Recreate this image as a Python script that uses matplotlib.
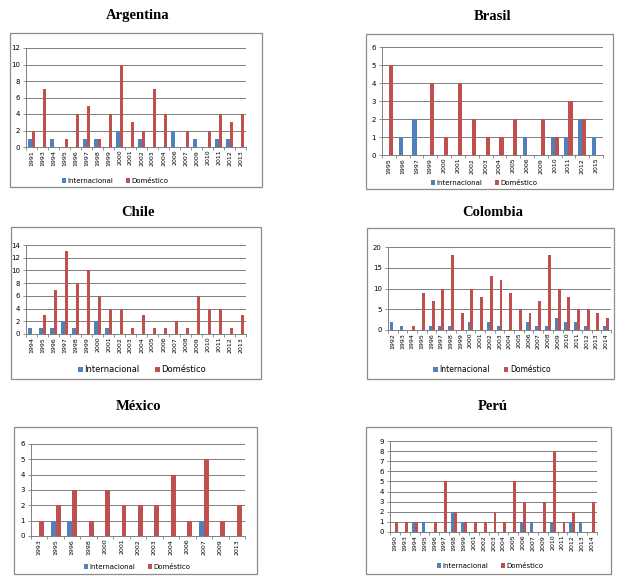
import numpy as np
import matplotlib.pyplot as plt
from matplotlib.patches import Rectangle

W, H = 624, 587
BLUE = '#4F81BD'
RED = '#C0504D'

# Argentina
arg_years = ['1991', '1993', '1994', '1995', '1996', '1997', '1998', '1999', '2000', '2001',
             '2002', '2003', '2004', '2006', '2007', '2009', '2010', '2011', '2012', '2013']
arg_int = [1, 0, 1, 0, 0, 1, 1, 0, 2, 0, 1, 0, 0, 2, 0, 1, 0, 1, 1, 0]
arg_dom = [2, 7, 0, 1, 4, 5, 1, 4, 10, 3, 2, 7, 4, 0, 2, 0, 2, 4, 3, 4]

# Brasil
bra_years = ['1995', '1996', '1997', '1999', '2000', '2001', '2002', '2003', '2004', '2005',
             '2006', '2009', '2010', '2011', '2012', '2015']
bra_int = [0, 1, 2, 0, 0, 0, 0, 0, 0, 0, 1, 0, 1, 1, 2, 1]
bra_dom = [5, 0, 0, 4, 1, 4, 2, 1, 1, 2, 0, 2, 1, 3, 2, 0]

# Chile
chi_years = [str(y) for y in range(1994, 2014)]
chi_int = [1, 1, 1, 2, 1, 0, 2, 1, 0, 0, 0, 0, 0, 0, 0, 0, 0, 0, 0, 0]
chi_dom = [0, 3, 7, 13, 8, 10, 6, 4, 4, 1, 3, 1, 1, 2, 1, 6, 4, 4, 1, 3]

# Colombia
col_years = [str(y) for y in range(1992, 2015)]
col_int = [2, 1, 0, 0, 1, 1, 1, 0, 2, 0, 2, 1, 0, 0, 2, 1, 1, 3, 2, 2, 1, 0, 1]
col_dom = [0, 0, 1, 9, 7, 10, 18, 4, 10, 8, 13, 12, 9, 5, 4, 7, 18, 10, 8, 5, 5, 4, 3]

# México
mex_years = ['1993', '1995', '1996', '1998', '2000', '2001', '2002', '2003', '2004', '2006',
             '2007', '2009', '2013']
mex_int = [0, 1, 1, 0, 0, 0, 0, 0, 0, 0, 1, 0, 0]
mex_dom = [1, 2, 3, 1, 3, 2, 2, 2, 4, 1, 5, 1, 2]

# Perú
per_years = ['1990', '1993', '1994', '1995', '1996', '1997', '1998', '1999', '2001', '2002',
             '2003', '2004', '2005', '2006', '2007', '2009', '2010', '2011', '2012', '2013', '2014']
per_int = [0, 0, 1, 1, 0, 0, 2, 1, 0, 0, 0, 0, 0, 1, 1, 0, 1, 0, 1, 1, 0]
per_dom = [1, 1, 1, 0, 1, 5, 2, 1, 1, 1, 2, 1, 5, 3, 0, 3, 8, 1, 2, 0, 3]

panels = [
    # name, years, int, dom, ymax, step, box(l,t,r,b), axes(l,t,r,b), title(x,y), legend(x,y), legend fs
    ('Argentina', arg_years, arg_int, arg_dom, 12, 2, (10, 33, 262, 187), (26, 48, 246, 147), (138, 16), (115, 181), 5),
    ('Brasil', bra_years, bra_int, bra_dom, 6, 1, (366, 34, 613, 189), (382, 47, 603, 155), (493, 16), (484, 183), 5),
    ('Chile', chi_years, chi_int, chi_dom, 14, 2, (11, 227, 261, 379), (26, 245, 246, 334), (138, 212), (142, 370), 6),
    ('Colombia', col_years, col_int, col_dom, 20, 5, (367, 228, 614, 379), (388, 247, 611, 330), (493, 212), (492, 370), 5.5),
    ('México', mex_years, mex_int, mex_dom, 6, 1, (14, 427, 257, 574), (31, 444, 245, 536), (138, 406), (137, 567), 5),
    ('Perú', per_years, per_int, per_dom, 9, 1, (366, 427, 611, 574), (390, 441, 597, 532), (493, 406), (490, 566), 5),
]


def frac(l, t, r, b):
    return [l / W, 1 - b / H, (r - l) / W, (b - t) / H]


fig = plt.figure(figsize=(W / 100, H / 100), dpi=100)

for name, years, v_int, v_dom, ymax, step, box, axbox, tpos, lpos, lfs in panels:
    fig.patches.append(Rectangle((box[0] / W, 1 - box[3] / H), (box[2] - box[0]) / W,
                                 (box[3] - box[1]) / H, transform=fig.transFigure,
                                 fill=False, edgecolor='#8c8c8c', lw=0.9))
    fig.text(tpos[0] / W, 1 - tpos[1] / H, name, ha='center', va='center',
             family='Liberation Serif', fontweight='bold', fontsize=10.5)

    ax = fig.add_axes(frac(*axbox))
    x = np.arange(len(years))
    w = 0.3
    ax.bar(x - w / 2, v_int, w, color=BLUE, label='Internacional', zorder=3)
    ax.bar(x + w / 2, v_dom, w, color=RED, label='Doméstico', zorder=3)
    ax.set_xlim(-0.5, len(years) - 0.5)
    ax.set_ylim(0, ymax)
    ax.set_yticks(np.arange(0, ymax + 0.1, step))
    ax.yaxis.grid(True, color='#7f7f7f', lw=0.7, zorder=0)
    ax.set_xticks(x)
    ax.set_xticklabels(years, rotation=90, fontsize=4.5)
    ax.set_xticks(np.arange(-0.5, len(years)), minor=True)
    ax.tick_params(axis='x', which='major', length=0, pad=2)
    ax.tick_params(axis='x', which='minor', length=2.5, color='#7f7f7f', width=0.6)
    ax.tick_params(axis='y', labelsize=5, length=2.5, color='#7f7f7f', width=0.6, pad=2)
    for s in ['top', 'right']:
        ax.spines[s].set_visible(False)
    for s in ['left', 'bottom']:
        ax.spines[s].set_color('#7f7f7f')
        ax.spines[s].set_linewidth(0.7)
    ax.set_facecolor('none')
    ax.legend(loc='center', bbox_to_anchor=(lpos[0] / W, 1 - lpos[1] / H),
              bbox_transform=fig.transFigure, ncol=2, frameon=False, fontsize=lfs,
              handlelength=0.6, handleheight=0.6, handletextpad=0.2, columnspacing=1.8,
              borderpad=0)

fig.savefig('out.png', dpi=100)
